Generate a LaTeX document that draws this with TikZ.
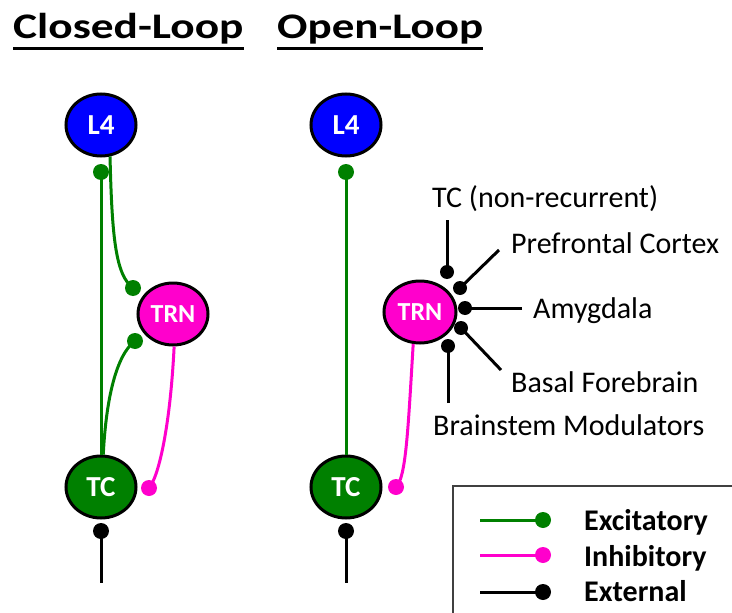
\documentclass[tikz,border=0pt]{standalone}
\usepackage{fontspec}
\usepackage{graphicx}
\setmainfont{Carlito}
\usetikzlibrary{shapes.geometric}
\definecolor{exgreen}{RGB}{0,128,0}
\definecolor{inmag}{RGB}{255,0,204}
\definecolor{lfourblue}{RGB}{0,0,255}
\begin{document}
\begin{tikzpicture}[x=1pt,y=-1pt,
  cell/.style={ellipse, draw=black, line width=3pt, minimum width=70pt, minimum height=62pt, inner sep=0pt, text=white, font=\fontsize{29}{29}\selectfont\bfseries},
  trncell/.style={cell, fill=inmag, font=\fontsize{26}{26}\selectfont\bfseries},
  syn/.style={circle, inner sep=0pt, minimum size=16pt},
  exc/.style={draw=exgreen, line width=3pt},
  inh/.style={draw=inmag, line width=3pt},
  ext/.style={draw=black, line width=3pt},
  lbl/.style={anchor=base west, inner sep=0pt, font=\fontsize{30}{30}\selectfont},
  leglbl/.style={anchor=base west, inner sep=0pt, font=\fontsize{30}{30}\selectfont\bfseries},
  ttl/.style={anchor=base west, inner sep=0pt, font=\fontsize{36}{36}\selectfont\bfseries}
]
\useasboundingbox (0,0) rectangle (732,613);

% titles
\node[ttl] (t1) at (13,38) {\scalebox{1.26}[1]{Closed-Loop}};
\node[ttl] (t2) at (277,38) {\scalebox{1.25}[1]{Open-Loop}};
\draw[line width=3pt] ([yshift=-5pt]t1.south west) -- ([yshift=-5pt]t1.south east);
\draw[line width=3pt] ([yshift=-5pt]t2.south west) -- ([yshift=-5pt]t2.south east);

% closed loop
\node[cell, fill=lfourblue] (l4a) at (101,125) {L4};
\node[trncell] (trna) at (173,314) {TRN};
\node[cell, fill=exgreen] (tca) at (101,487) {TC};
\node[syn, fill=exgreen] (sa1) at (101,172) {};
\node[syn, fill=exgreen] (sa2) at (133,288) {};
\node[syn, fill=exgreen] (sa3) at (135,341) {};
\node[syn, fill=inmag] (sa4) at (149,488) {};
\node[syn, fill=black] (sa5) at (101,531) {};
\coordinate (ea) at (101,583);
\draw[exc] (tca.north) -- (sa1.center);
\draw[exc] (l4a.-74) .. controls (112,240) and (116,275) .. (sa2.center);
\draw[exc] (tca.86) .. controls (106,400) and (116,355) .. (sa3.center);
\draw[inh] (trna.-88) .. controls (170,430) and (158,478) .. (sa4.center);
\draw[ext] (sa5.center) -- (ea);

% open loop
\node[cell, fill=lfourblue] (l4b) at (346,125) {L4};
\node[trncell, minimum width=72pt] (trnb) at (420,312) {TRN};
\node[cell, fill=exgreen] (tcb) at (346,487) {TC};
\node[syn, fill=exgreen] (sb1) at (346,172) {};
\node[syn, fill=inmag] (sb4) at (396,487) {};
\node[syn, fill=black] (sb5) at (346,531) {};
\coordinate (eb) at (346,583);
\draw[exc] (tcb.north) -- (sb1.center);
\draw[inh] (trnb.-102) .. controls (408,430) and (406,478) .. (sb4.center);
\draw[ext] (sb5.center) -- (eb);

% external inputs to TRN
\node[syn, fill=black, minimum size=14pt] (x1) at (447,272) {};
\node[syn, fill=black, minimum size=14pt] (x2) at (460,288) {};
\node[syn, fill=black, minimum size=14pt] (x3) at (465,308) {};
\node[syn, fill=black, minimum size=14pt] (x4) at (461,328) {};
\node[syn, fill=black, minimum size=14pt] (x5) at (448,346) {};
\coordinate (y1) at (447,220);
\coordinate (y2) at (499,250);
\coordinate (y3) at (522,308);
\coordinate (y4) at (501,370);
\coordinate (y5) at (448,403);
\draw[ext] (y1) -- (x1.center);
\draw[ext] (y2) -- (x2.center);
\draw[ext] (y3) -- (x3.center);
\draw[ext] (y4) -- (x4.center);
\draw[ext] (y5) -- (x5.center);
\node[lbl] (n1) at (432,207) {TC (non-recurrent)};
\node[lbl] (n2) at (511,253) {Prefrontal Cortex};
\node[lbl] (n3) at (533,318) {Amygdala};
\node[lbl] (n4) at (511,392) {Basal Forebrain};
\node[lbl] (n5) at (433,435) {Brainstem Modulators};

% legend
\draw[line width=1.5pt, draw=black!75] (453,613) -- (453,486) -- (732,486);
\coordinate (la1) at (480,520);
\coordinate (la2) at (480,555);
\coordinate (la3) at (480,592);
\node[syn, fill=exgreen] (lb1) at (543,520) {};
\node[syn, fill=inmag] (lb2) at (543,555) {};
\node[syn, fill=black] (lb3) at (543,592) {};
\draw[exc] (la1) -- (lb1.center);
\draw[inh] (la2) -- (lb2.center);
\draw[ext] (la3) -- (lb3.center);
\node[leglbl] (lt1) at (584,530) {Excitatory};
\node[leglbl] (lt2) at (584,566) {Inhibitory};
\node[leglbl] (lt3) at (584,601) {External};
\end{tikzpicture}
\end{document}
